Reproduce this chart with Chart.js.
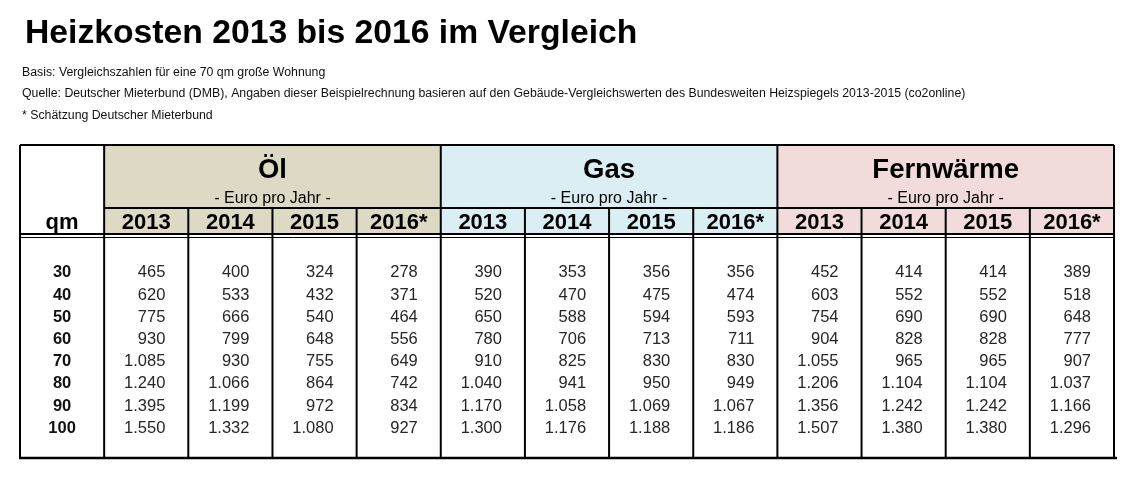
<!DOCTYPE html>
<html lang="de">
<head>
  <meta charset="UTF-8" />
  <title>Heizkosten 2013 bis 2016 im Vergleich</title>
  <script src="https://cdn.jsdelivr.net/npm/chart.js"></script>
  <style>
    body { margin: 0; background: #fff; }
    .wrap { width: 1142px; height: 484px; }
  </style>
</head>
<body>
  <div class="wrap"><canvas id="heizChart"></canvas></div>

  <script>
    // Tabellendaten (Euro pro Jahr)
    const zeilenQm = [30, 40, 50, 60, 70, 80, 90, 100];
    const jahre = ['2013', '2014', '2015', '2016*'];
    const energietraeger = ['Öl', 'Gas', 'Fernwärme'];

    const oel2013 = [465, 620, 775, 930, 1085, 1240, 1395, 1550];
    const oel2014 = [400, 533, 666, 799, 930, 1066, 1199, 1332];
    const oel2015 = [324, 432, 540, 648, 755, 864, 972, 1080];
    const oel2016 = [278, 371, 464, 556, 649, 742, 834, 927];
    const gas2013 = [390, 520, 650, 780, 910, 1040, 1170, 1300];
    const gas2014 = [353, 470, 588, 706, 825, 941, 1058, 1176];
    const gas2015 = [356, 475, 594, 713, 830, 950, 1069, 1188];
    const gas2016 = [356, 474, 593, 711, 830, 949, 1067, 1186];
    const fw2013 = [452, 603, 754, 904, 1055, 1206, 1356, 1507];
    const fw2014 = [414, 552, 690, 828, 965, 1104, 1242, 1380];
    const fw2015 = [414, 552, 690, 828, 965, 1104, 1242, 1380];
    const fw2016 = [389, 518, 648, 777, 907, 1037, 1166, 1296];

    const spalten = [oel2013, oel2014, oel2015, oel2016,
                     gas2013, gas2014, gas2015, gas2016,
                     fw2013, fw2014, fw2015, fw2016];

    const titel = 'Heizkosten 2013 bis 2016 im Vergleich';
    const hinweise = [
      'Basis: Vergleichszahlen für eine 70 qm große Wohnung',
      'Quelle: Deutscher Mieterbund (DMB), Angaben dieser Beispielrechnung basieren auf den Gebäude-Vergleichswerten des Bundesweiten Heizspiegels 2013-2015 (co2online)',
      '* Schätzung Deutscher Mieterbund'
    ];

    const FONT = '"Liberation Sans", Arial, sans-serif';
    const farben = ['#ddd9c4', '#daeef3', '#f2dcdb'];

    // deutsche Tausenderpunkte
    function fmt(v) {
      if (v < 1000) return String(v);
      return Math.floor(v / 1000) + '.' + String(v % 1000).padStart(3, '0');
    }

    const datasets = [
      { label: 'qm', data: zeilenQm.map((v, i) => ({ x: 0, y: i, v })) },
      ...spalten.map((werte, k) => ({
        label: energietraeger[Math.floor(k / 4)] + ' ' + jahre[k % 4],
        data: werte.map((v, i) => ({ x: k + 1, y: i, v }))
      }))
    ];

    // zeichnet Kopf, Linien und Zellentexte anhand der Skalen
    const tabellePlugin = {
      id: 'tabelle',
      beforeDatasetsDraw(chart) {
        const { ctx, chartArea: a, scales: { x } } = chart;
        const kante = c => x.getPixelForValue(c - 0.5);
        const kopfH = 89, jahrOben = 63;
        ctx.save();

        energietraeger.forEach((name, g) => {
          const l = kante(1 + g * 4), r = kante(5 + g * 4);
          ctx.fillStyle = farben[g];
          ctx.fillRect(l, a.top, r - l, kopfH);
        });

        ctx.strokeStyle = '#000';
        const linie = (x1, y1, x2, y2, w) => {
          ctx.lineWidth = w;
          ctx.beginPath();
          ctx.moveTo(x1, y1);
          ctx.lineTo(x2, y2);
          ctx.stroke();
        };

        // Rahmen
        linie(a.left, a.top, a.right, a.top, 2);
        linie(a.left, a.top, a.left, a.bottom, 2);
        linie(a.right, a.top, a.right, a.bottom, 2);
        linie(a.left - 1, a.bottom, a.right + 3, a.bottom, 2.5);

        // Spaltenlinien
        for (let k = 1; k <= 12; k++) {
          const px = kante(k);
          const voll = (k - 1) % 4 === 0;
          linie(px, voll ? a.top : a.top + jahrOben, px, a.bottom, 2);
        }

        linie(kante(1), a.top + jahrOben, a.right, a.top + jahrOben, 2);
        linie(a.left, a.top + kopfH, a.right, a.top + kopfH, 2);
        linie(a.left, a.top + kopfH + 3.5, a.right, a.top + kopfH + 3.5, 1);
        ctx.restore();
      },
      afterDatasetsDraw(chart) {
        const { ctx, chartArea: a, scales: { x } } = chart;
        const kante = c => x.getPixelForValue(c - 0.5);
        ctx.save();
        ctx.textBaseline = 'alphabetic';
        ctx.fillStyle = '#000';

        // Kopfzeilen
        energietraeger.forEach((name, g) => {
          const mitte = (kante(1 + g * 4) + kante(5 + g * 4)) / 2;
          ctx.textAlign = 'center';
          ctx.font = 'bold 27.5px ' + FONT;
          ctx.fillText(name, mitte, a.top + 33);
          ctx.font = '16px ' + FONT;
          ctx.fillText('- Euro pro Jahr -', mitte, a.top + 58);
          ctx.font = 'bold 22px ' + FONT;
          jahre.forEach((j, k) => {
            ctx.fillText(j, x.getPixelForValue(1 + g * 4 + k), a.top + 84);
          });
        });
        ctx.font = 'bold 22px ' + FONT;
        ctx.fillText('qm', x.getPixelForValue(0), a.top + 84);

        // Zellen
        chart.data.datasets.forEach((ds, i) => {
          const meta = chart.getDatasetMeta(i);
          meta.data.forEach((el, j) => {
            const wert = ds.data[j].v;
            if (i === 0) {
              ctx.font = 'bold 16.5px ' + FONT;
              ctx.fillStyle = '#111';
              ctx.textAlign = 'center';
              ctx.fillText(String(wert), el.x, el.y + 6);
            } else {
              ctx.font = '16.5px ' + FONT;
              ctx.fillStyle = '#262626';
              ctx.textAlign = 'right';
              ctx.fillText(fmt(wert), kante(i + 1) - 23, el.y + 6);
            }
          });
        });
        ctx.restore();
      },
      afterDraw(chart) {
        const { ctx } = chart;
        ctx.save();
        ctx.fillStyle = '#000';
        ctx.textAlign = 'left';
        ctx.textBaseline = 'alphabetic';
        ctx.font = 'bold 33.7px ' + FONT;
        ctx.fillText(titel, 25, 43);
        ctx.font = '12.3px ' + FONT;
        ctx.fillStyle = '#111';
        [75.5, 97, 119].forEach((y, i) => ctx.fillText(hinweise[i], 22, y));
        ctx.restore();
      }
    };

    const ctx = document.getElementById('heizChart').getContext('2d');
    new Chart(ctx, {
      type: 'scatter',
      data: { datasets },
      options: {
        responsive: true,
        maintainAspectRatio: false,
        animation: false,
        events: [],
        layout: { padding: { left: 20, right: 28, top: 145, bottom: 26 } },
        elements: { point: { radius: 0, hoverRadius: 0 } },
        plugins: { legend: { display: false }, tooltip: { enabled: false } },
        scales: {
          x: { type: 'linear', min: -0.5, max: 12.5, display: false },
          y: { type: 'linear', min: -5.7, max: 8.41, reverse: true, display: false }
        }
      },
      plugins: [tabellePlugin]
    });
  </script>
</body>
</html>
